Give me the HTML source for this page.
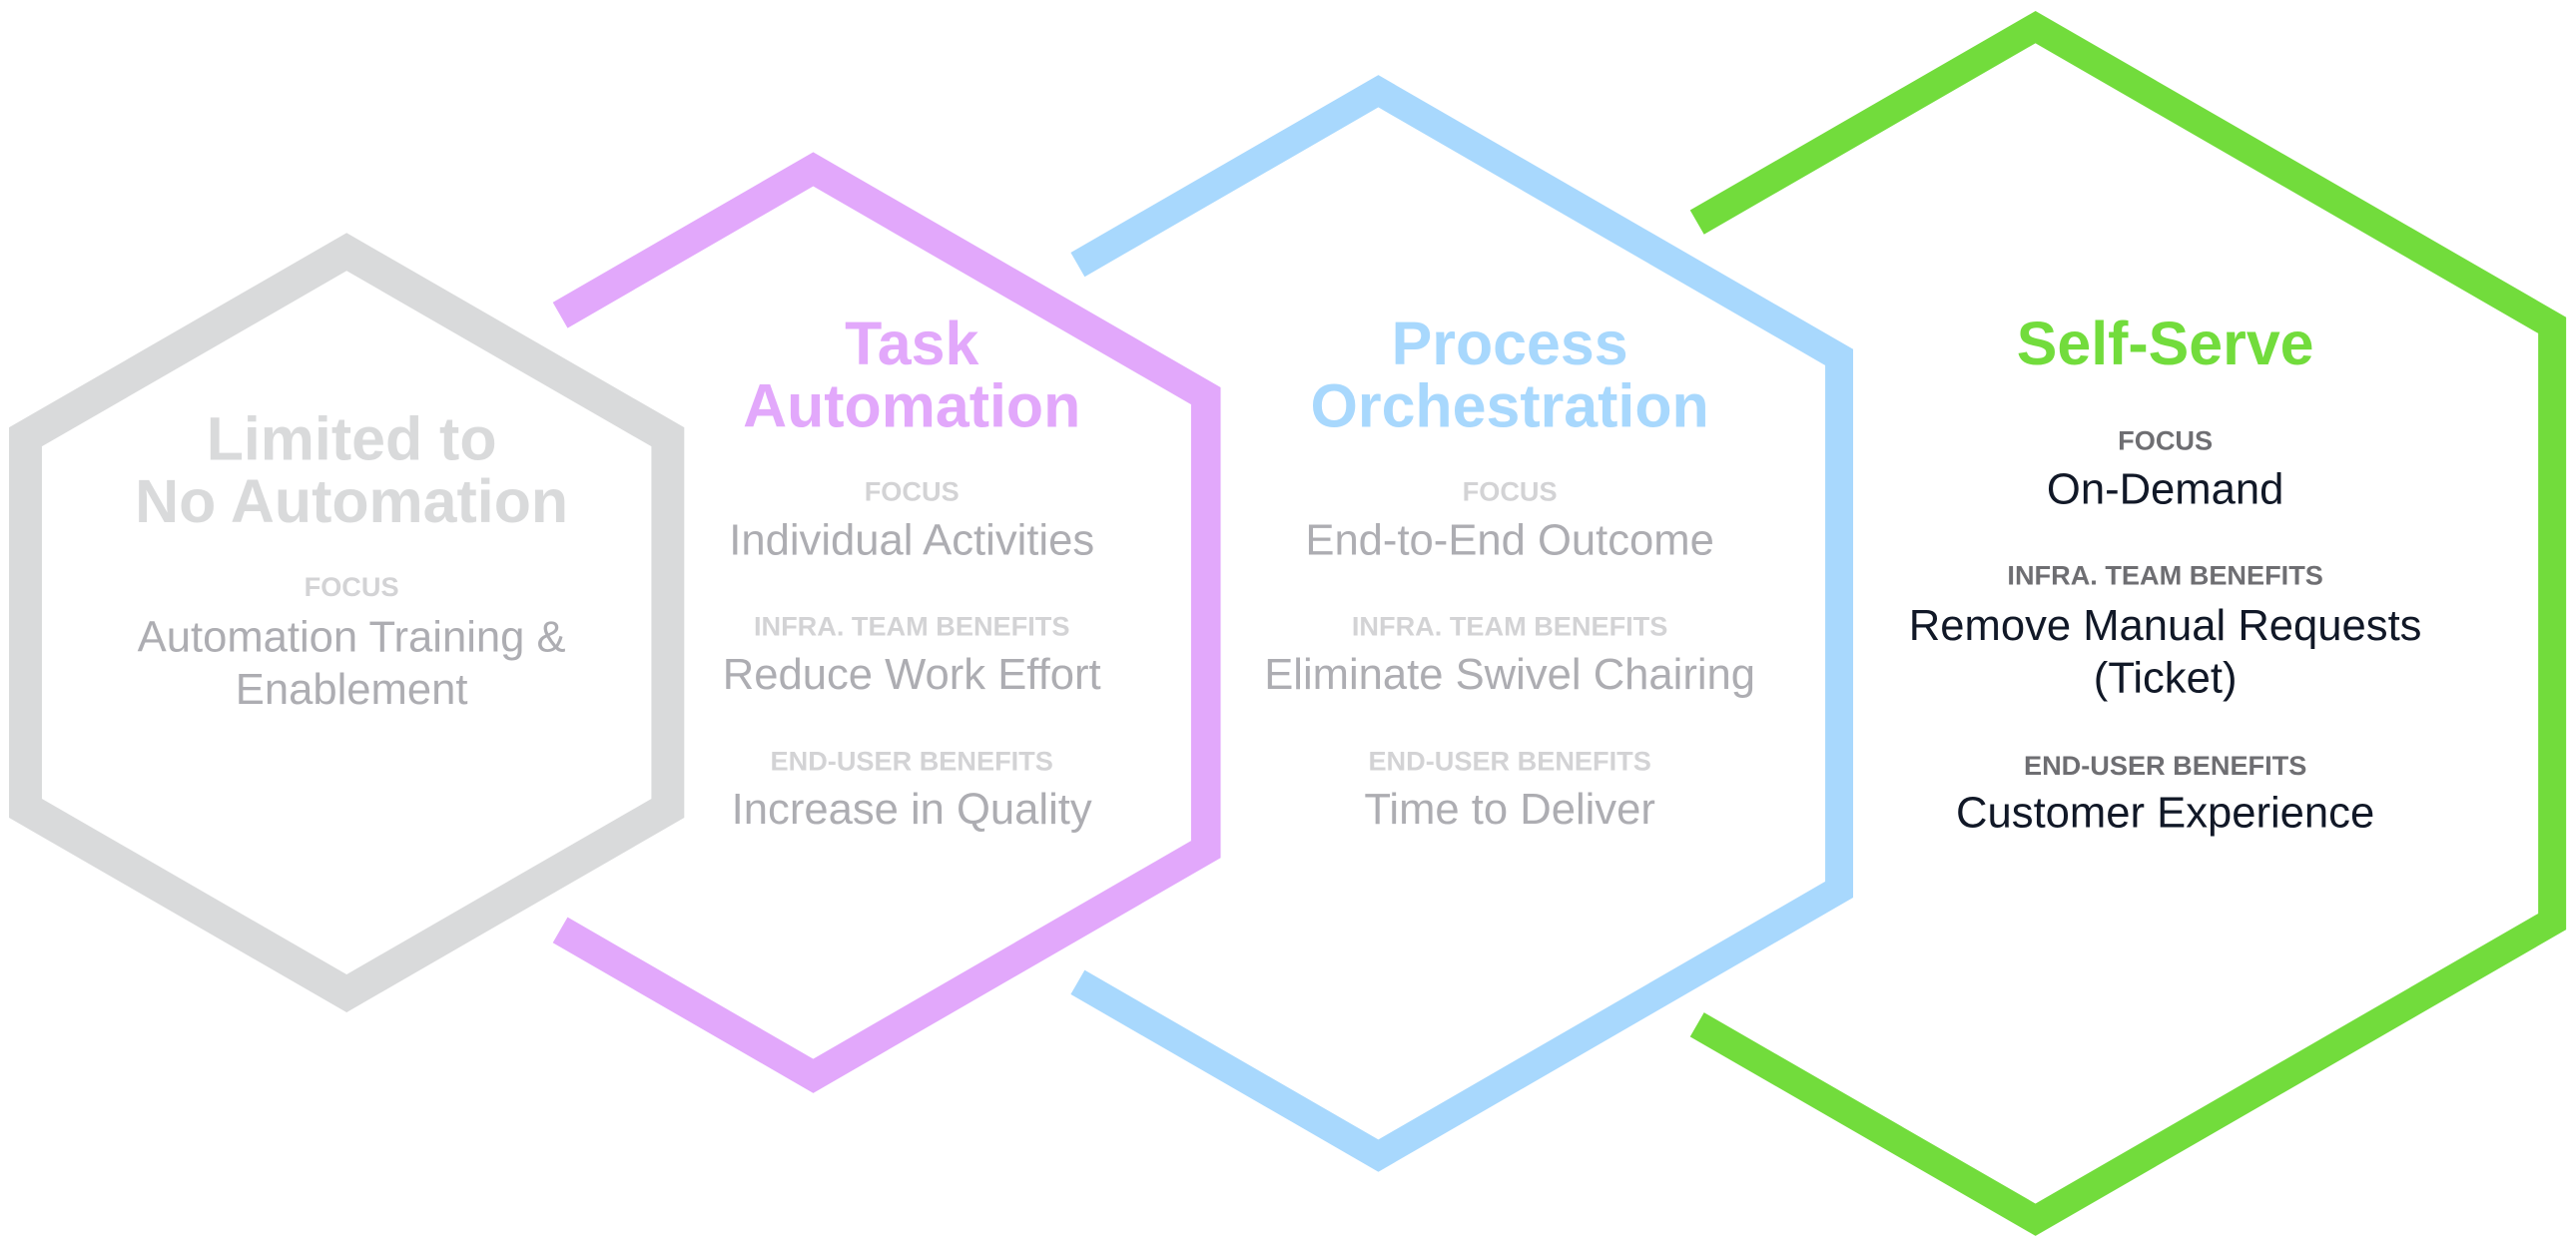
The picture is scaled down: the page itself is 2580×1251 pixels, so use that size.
<!DOCTYPE html>
<html><head><meta charset="utf-8"><style>
html,body{margin:0;padding:0;background:#fff;}
svg{display:block;}
text{font-family:"Liberation Sans",sans-serif;text-anchor:middle;dominant-baseline:central;}
.t{font-size:37px;font-weight:bold;}
.l{font-size:16.5px;font-weight:bold;}
.b{font-size:26.5px;}
</style></head><body>
<svg width="2580" height="1251" viewBox="0 0 1568 760.3" preserveAspectRatio="none" xmlns="http://www.w3.org/2000/svg">
<g fill="none" stroke-linejoin="miter" stroke-linecap="butt">
<polygon points="211,153.3 406.5,266 406.5,492 211,604.7 15.5,492 15.5,266" stroke="#d9dadb" stroke-width="20"/>
<polyline points="341,191.9 495,103 734,241 734,517 495,655 341,566.1" stroke="#e2a8fb" stroke-width="18"/>
<polyline points="656,161.1 839,55.5 1119.5,217.5 1119.5,541.5 839,703.5 656,597.9" stroke="#a8d8fd" stroke-width="17"/>
<polyline points="1033,135.3 1239,16.5 1553.5,198 1553.5,561 1239,742.5 1033,623.7" stroke="#72dc3c" stroke-width="17"/>
</g>
<g fill="#d9dadb"><text class="t" x="214" y="267">Limited to</text><text class="t" x="214" y="305">No Automation</text></g>
<text class="l" x="214" y="357" fill="#d3d3d5">FOCUS</text>
<g fill="#adadb2"><text class="b" x="214" y="388">Automation Training &amp;</text><text class="b" x="214" y="420">Enablement</text></g>

<g fill="#e2a8fb"><text class="t" x="555" y="209">Task</text><text class="t" x="555" y="247">Automation</text></g>
<g fill="#d3d3d5"><text class="l" x="555" y="299">FOCUS</text><text class="l" x="555" y="381">INFRA. TEAM BENEFITS</text><text class="l" x="555" y="463">END-USER BENEFITS</text></g>
<g fill="#adadb2"><text class="b" x="555" y="329">Individual Activities</text><text class="b" x="555" y="411">Reduce Work Effort</text><text class="b" x="555" y="493">Increase in Quality</text></g>

<g fill="#a8d8fd"><text class="t" x="919" y="209">Process</text><text class="t" x="919" y="247">Orchestration</text></g>
<g fill="#d3d3d5"><text class="l" x="919" y="299">FOCUS</text><text class="l" x="919" y="381">INFRA. TEAM BENEFITS</text><text class="l" x="919" y="463">END-USER BENEFITS</text></g>
<g fill="#adadb2"><text class="b" x="919" y="329">End-to-End Outcome</text><text class="b" x="919" y="411">Eliminate Swivel Chairing</text><text class="b" x="919" y="493">Time to Deliver</text></g>

<text class="t" x="1318" y="209" fill="#72dc3c">Self-Serve</text>
<g fill="#6e6e72"><text class="l" x="1318" y="268">FOCUS</text><text class="l" x="1318" y="350">INFRA. TEAM BENEFITS</text><text class="l" x="1318" y="466">END-USER BENEFITS</text></g>
<g fill="#111827"><text class="b" x="1318" y="298">On-Demand</text><text class="b" x="1318" y="381">Remove Manual Requests</text><text class="b" x="1318" y="413">(Ticket)</text><text class="b" x="1318" y="495">Customer Experience</text></g>
</svg>
</body></html>
